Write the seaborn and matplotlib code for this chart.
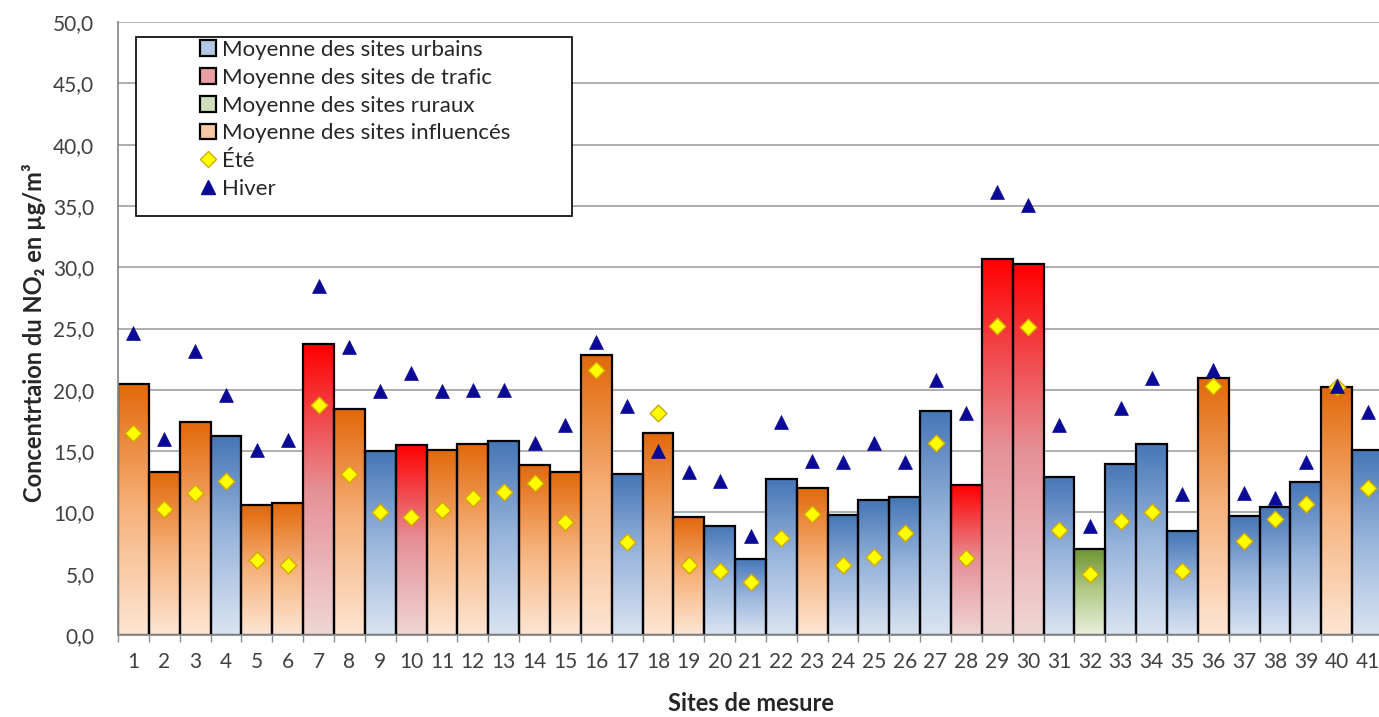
import matplotlib

matplotlib.use("Agg")
import matplotlib.pyplot as plt
import numpy as np
import pandas as pd
import seaborn as sns
from matplotlib.colors import LinearSegmentedColormap
from matplotlib.lines import Line2D
from matplotlib.patches import Patch, Rectangle
from matplotlib.ticker import FixedLocator, FuncFormatter

# Data
sites = [str(i) for i in range(1, 42)]
site_types = [
    "I", "I", "I", "U", "I", "I", "T", "I", "U", "T",
    "I", "I", "U", "I", "I", "I", "U", "I", "I", "U",
    "U", "U", "I", "U", "U", "U", "U", "T", "T", "T",
    "U", "R", "U", "U", "U", "I", "U", "U", "U", "I",
    "U",
]
moyenne = [
    20.5, 13.3, 17.4, 16.2, 10.6, 10.8, 23.7, 18.4, 15.0, 15.5,
    15.1, 15.6, 15.8, 13.9, 13.3, 22.8, 13.1, 16.5, 9.6, 8.9,
    6.2, 12.7, 12.0, 9.8, 11.0, 11.25, 18.3, 12.2, 30.7, 30.25,
    12.9, 7.05, 13.95, 15.6, 8.45, 20.95, 9.7, 10.4, 12.45, 20.25,
    15.1,
]
ete = [
    16.5, 10.3, 11.6, 12.6, 6.1, 5.7, 18.8, 13.1, 10.0, 9.6,
    10.2, 11.2, 11.7, 12.4, 9.2, 21.6, 7.6, 18.1, 5.7, 5.2,
    4.3, 7.9, 9.9, 5.7, 6.4, 8.3, 15.65, 6.3, 25.2, 25.1,
    8.6, 5.0, 9.3, 10.0, 5.2, 20.3, 7.7, 9.5, 10.7, 20.2,
    12.0,
]
hiver = [
    24.6, 16.0, 23.2, 19.6, 15.1, 15.9, 28.5, 23.5, 19.9, 21.4,
    19.9, 20.0, 20.0, 15.65, 17.1, 23.9, 18.7, 15.0, 13.3, 12.6,
    8.1, 17.4, 14.2, 14.1, 15.7, 14.1, 20.8, 18.1, 36.1, 35.1,
    17.1, 8.9, 18.5, 21.0, 11.5, 21.6, 11.6, 11.2, 14.1, 20.3,
    18.2,
]

type_order = ["U", "T", "R", "I"]
type_labels = [
    "Moyenne des sites urbains",
    "Moyenne des sites de trafic",
    "Moyenne des sites ruraux",
    "Moyenne des sites influencés",
]

# gradient stops, bottom (light) -> top (dark)
gradients = {
    "U": ["#DAE4F2", "#9AB6DC", "#4576B6"],
    "T": ["#F0D6D6", "#E59096", "#FF0000"],
    "R": ["#E9F0DC", "#B4CB8A", "#6C9430"],
    "I": ["#FDE6D4", "#F6B27C", "#E2680A"],
}
legend_colors = {"U": "#B3C8E4", "T": "#E9A0A4", "R": "#D3E0BD", "I": "#F8C9A6"}


def build_frame() -> pd.DataFrame:
    return pd.DataFrame(
        {
            "site": sites,
            "type": site_types,
            "moyenne": moyenne,
            "ete": ete,
            "hiver": hiver,
        }
    )


def plot(df: pd.DataFrame) -> None:
    sns.set_style("white")
    plt.rcParams["font.family"] = ["Lato", "DejaVu Sans"]

    fig = plt.figure(figsize=(13.79, 7.17), dpi=100)
    ax = fig.add_axes([118 / 1379, 1 - 635 / 717, 1265 / 1379, 613 / 717])

    sns.barplot(
        data=df,
        x="site",
        y="moyenne",
        hue="type",
        order=sites,
        hue_order=type_order,
        palette=legend_colors,
        dodge=False,
        width=1.0,
        edgecolor="black",
        linewidth=1.6,
        legend=False,
        ax=ax,
    )

    # Replace flat fills with a vertical gradient per bar
    grad = np.linspace(0, 1, 256).reshape(-1, 1)
    for patch in list(ax.patches):
        h = patch.get_height()
        if not np.isfinite(h) or h <= 0:
            continue
        x0 = patch.get_x()
        w = patch.get_width()
        idx = int(round(x0 + w / 2))
        cmap = LinearSegmentedColormap.from_list("g", gradients[site_types[idx]])
        im = ax.imshow(
            grad,
            extent=[x0, x0 + w, 0, h],
            origin="lower",
            aspect="auto",
            cmap=cmap,
            zorder=1.5,
        )
        im.set_clip_path(patch)
        patch.set_facecolor("none")
        patch.set_zorder(2)

    sns.stripplot(
        data=df, x="site", y="ete", order=sites, jitter=False,
        marker="D", size=8.5, color="#FFFF00", edgecolor="#D2AA00",
        linewidth=1.0, zorder=4, ax=ax,
    )
    sns.stripplot(
        data=df, x="site", y="hiver", order=sites, jitter=False,
        marker="^", size=10, color="#0A0A96", edgecolor="#0A0A96",
        linewidth=0.5, zorder=4, ax=ax,
    )

    ax.set_xlim(-0.5, 40.5)
    ax.set_ylim(0, 50)
    ax.set_yticks(np.arange(0, 50.1, 5))
    ax.yaxis.set_major_formatter(FuncFormatter(lambda v, _: f"{v:.1f}".replace(".", ",")))
    ax.set_xticks(range(len(sites)))
    ax.set_xticklabels(sites)
    ax.xaxis.set_minor_locator(FixedLocator(np.arange(-0.5, 41, 1.0)))

    ax.grid(axis="y", color="#A8A8A8", linewidth=1.3, zorder=0.5)
    ax.set_axisbelow(True)
    for side in ["top", "right"]:
        ax.spines[side].set_visible(False)
    ax.spines["left"].set_color("#8C8C8C")
    ax.spines["left"].set_linewidth(1.3)
    ax.spines["bottom"].set_color("#8C8C8C")
    ax.spines["bottom"].set_linewidth(1.3)

    ax.tick_params(axis="y", which="major", length=5, width=1, color="#8C8C8C",
                   labelsize=15, labelcolor="#404040", pad=12)
    ax.tick_params(axis="x", which="major", length=0, labelsize=15,
                   labelcolor="#404040", pad=12)
    ax.tick_params(axis="x", which="minor", length=5, width=1, color="#8C8C8C",
                   bottom=True)

    ax.set_xlabel("Sites de mesure", fontsize=17, fontweight="bold", color="#262626")
    ax.xaxis.set_label_coords(0.5, -0.093)
    ax.set_ylabel("Concentrtaion du NO₂ en µg/m³", fontsize=17, fontweight="bold",
                  color="#262626")
    ax.yaxis.set_label_coords(-0.057, 0.493)

    # Legend box
    box = Rectangle(
        ((136 - 118) / 1265, (635 - 216) / 613),
        (572 - 136) / 1265,
        (216 - 37) / 613,
        transform=ax.transAxes, facecolor="white", edgecolor="black",
        linewidth=1.2, zorder=5,
    )
    ax.add_patch(box)

    handles = [
        Patch(facecolor=legend_colors[t], edgecolor="black", linewidth=1.6)
        for t in type_order
    ]
    handles.append(Line2D([], [], linestyle="none", marker="D", markersize=8,
                          markerfacecolor="#FFFF00", markeredgecolor="#D2AA00"))
    handles.append(Line2D([], [], linestyle="none", marker="^", markersize=10,
                          markerfacecolor="#0A0A96", markeredgecolor="#0A0A96"))
    leg = ax.legend(
        handles=handles,
        labels=type_labels + ["Été", "Hiver"],
        loc="upper left",
        bbox_to_anchor=((200 - 118) / 1265, (635 - 40) / 613),
        frameon=False,
        fontsize=16,
        handlelength=0.72,
        handleheight=0.72,
        handletextpad=0.25,
        labelspacing=0.35,
        borderpad=0,
        borderaxespad=0,
        labelcolor="#262626",
    )
    leg.set_zorder(6)

    fig.savefig("out.png", dpi=100)
    plt.close(fig)


def main() -> None:
    df = build_frame()
    plot(df=df)


if __name__ == "__main__":
    main()
